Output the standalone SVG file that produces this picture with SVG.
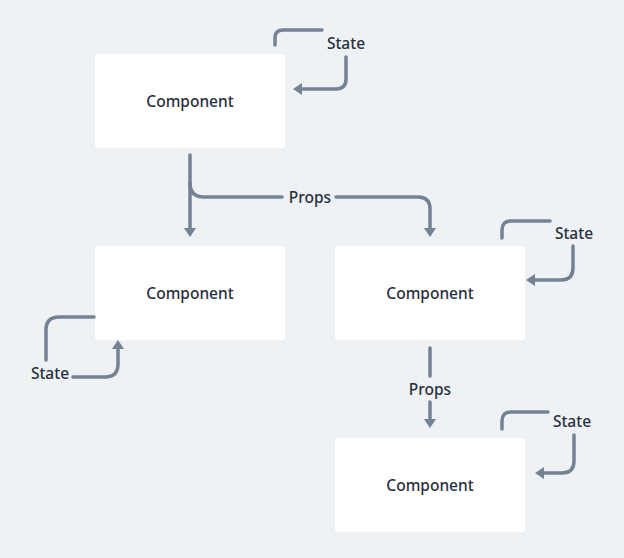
<svg xmlns="http://www.w3.org/2000/svg" width="624" height="558" viewBox="0 0 624 558">
<style>
.box{fill:#ffffff;stroke:#e6eaee;stroke-width:1}
.lbl{font-family:"Noto Sans","Liberation Sans",sans-serif;font-weight:500;font-size:15.5px;fill:#26303d;text-anchor:middle}
.edge{fill:none;stroke:#738394;stroke-width:3.5;stroke-linecap:round}
</style>
<defs>
<marker id="ah" viewBox="0 -6 9 12" markerWidth="9" markerHeight="12" refX="0" refY="0" orient="auto" markerUnits="userSpaceOnUse">
<path d="M0,-6 L9,0 L0,6 z" fill="#738394"/>
</marker>
</defs>
<rect width="624" height="558" fill="#eff2f5"/>
<g id="node-top"><rect class="box" x="94" y="53" width="192" height="96" rx="4"/><text class="lbl" x="190" y="107">Component</text></g>
<g id="node-left"><rect class="box" x="94" y="245" width="192" height="96" rx="4"/><text class="lbl" x="190" y="299">Component</text></g>
<g id="node-right"><rect class="box" x="334" y="245" width="192" height="96" rx="4"/><text class="lbl" x="430" y="299">Component</text></g>
<g id="node-bottom"><rect class="box" x="334" y="437" width="192" height="96" rx="4"/><text class="lbl" x="430" y="491">Component</text></g>
<g id="connectors">
<path class="edge" d="M275,45 V38 Q275,30 283,30 H322"/>
<path class="edge" d="M346,57 V79 Q346,89 336,89 H302" marker-end="url(#ah)"/>
<path class="edge" d="M190,155 V228" marker-end="url(#ah)"/>
<path class="edge" d="M190,183 Q190,197 204,197 H282"/>
<path class="edge" d="M336,197 H418 Q430,197 430,209 V228" marker-end="url(#ah)"/>
<path class="edge" d="M46,360 V330 Q46,317 59,317 H94"/>
<path class="edge" d="M73,377 H105 Q118,377 118,364 V349" marker-end="url(#ah)"/>
<path class="edge" d="M502,238 V230 Q502,221 511,221 H550"/>
<path class="edge" d="M573,246 V268 Q573,280 561,280 H535" marker-end="url(#ah)"/>
<path class="edge" d="M430,348 V376"/>
<path class="edge" d="M430,402 V419" marker-end="url(#ah)"/>
<path class="edge" d="M502,429 V421 Q502,412 511,412 H548"/>
<path class="edge" d="M574,435 V461 Q574,473 562,473 H544" marker-end="url(#ah)"/>
<text class="lbl" x="346" y="49">State</text>
<text class="lbl" x="50" y="379">State</text>
<text class="lbl" x="574" y="239">State</text>
<text class="lbl" x="572" y="427">State</text>
<text class="lbl" x="310" y="203">Props</text>
<text class="lbl" x="430" y="395">Props</text>
</g>
</svg>
